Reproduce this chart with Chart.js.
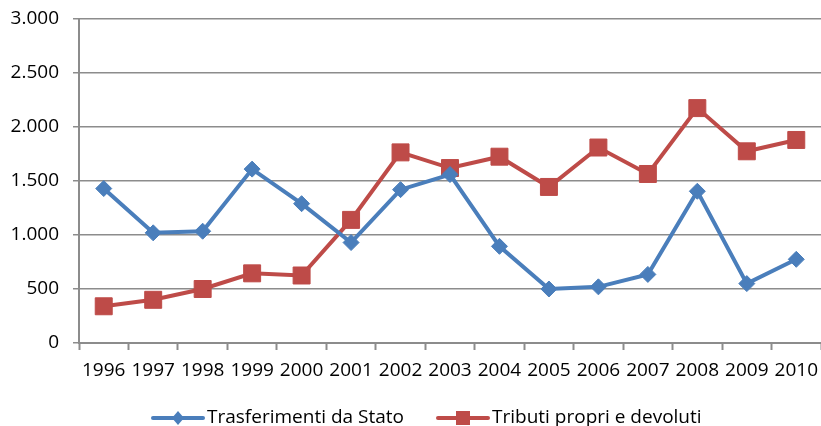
<!DOCTYPE html>
<html>
<head>
<meta charset="utf-8">
<script src="https://cdn.jsdelivr.net/npm/chart.js@4/dist/chart.umd.min.js"></script>
<style>
html,body{margin:0;padding:0;background:#fff;}
#wrap{width:821px;height:426px;position:relative;}
</style>
</head>
<body>
<div id="wrap"><canvas id="c" width="821" height="426"></canvas></div>
<script>
const years = ['1996','1997','1998','1999','2000','2001','2002','2003','2004','2005','2006','2007','2008','2009','2010'];
const trasferimenti = [1430,1020,1035,1610,1290,930,1420,1560,895,500,520,635,1405,550,775];
const tributi = [340,400,500,645,625,1140,1765,1620,1725,1445,1810,1565,2175,1775,1880];
const seriesNames = ['Trasferimenti da Stato','Tributi propri e devoluti'];
const yTicks = [0,500,1000,1500,2000,2500,3000];

const BLUE = '#4A7EBB';
const RED = '#BE4B48';
const GRID = '#8C8C8C';
const FONT = 'Open Sans';

const legendPlugin = {
  id: 'customLegend',
  afterDraw(chart) {
    const ctx = chart.ctx;
    const y = 418;
    const items = [
      {x: 153, ds: chart.data.datasets[0]},
      {x: 438, ds: chart.data.datasets[1]}
    ];
    ctx.save();
    ctx.font = '19px "' + FONT + '"';
    ctx.textBaseline = 'middle';
    items.forEach(it => {
      const ds = it.ds;
      ctx.strokeStyle = ds.borderColor;
      ctx.lineWidth = 4;
      ctx.lineCap = 'round';
      ctx.beginPath();
      ctx.moveTo(it.x, y);
      ctx.lineTo(it.x + 50, y);
      ctx.stroke();
      ctx.fillStyle = ds.pointBackgroundColor;
      const cx = it.x + 25;
      if (ds.pointStyle === 'rect') {
        ctx.fillRect(cx - 7, y - 7, 14, 14);
      } else {
        ctx.beginPath();
        ctx.moveTo(cx, y - 7);
        ctx.lineTo(cx + 6, y);
        ctx.lineTo(cx, y + 7);
        ctx.lineTo(cx - 6, y);
        ctx.closePath();
        ctx.fill();
      }
      ctx.fillStyle = '#000';
      ctx.textAlign = 'left';
      ctx.fillText(ds.label, it.x + 54, y);
    });
    ctx.restore();
  }
};

new Chart(document.getElementById('c'), {
  type: 'line',
  data: {
    labels: years,
    datasets: [
      {
        label: seriesNames[0],
        data: trasferimenti,
        borderColor: BLUE,
        backgroundColor: BLUE,
        pointBackgroundColor: BLUE,
        pointBorderColor: BLUE,
        borderWidth: 4,
        pointStyle: 'rectRot',
        pointRadius: 8,
        pointBorderWidth: 1,
        tension: 0
      },
      {
        label: seriesNames[1],
        data: tributi,
        borderColor: RED,
        backgroundColor: RED,
        pointBackgroundColor: RED,
        pointBorderColor: RED,
        borderWidth: 4,
        pointStyle: 'rect',
        pointRadius: 12,
        pointBorderWidth: 1,
        tension: 0
      }
    ]
  },
  options: {
    responsive: false,
    animation: false,
    layout: {autoPadding: false, padding: {top: 19, right: 0, bottom: 0, left: 0}},
    plugins: {
      legend: {display: false},
      tooltip: {enabled: false}
    },
    scales: {
      x: {
        offset: true,
        grid: {
          offset: true,
          drawOnChartArea: false,
          drawTicks: true,
          tickLength: 7,
          tickWidth: 2,
          tickColor: GRID
        },
        border: {color: GRID, width: 2},
        ticks: {
          color: '#000',
          font: {family: FONT, size: 19},
          padding: 9,
          maxRotation: 0,
          autoSkip: false
        },
        afterFit(scale) { scale.height = 83; scale.paddingLeft = 0; scale.paddingRight = 0; }
      },
      y: {
        min: 0,
        max: 3000,
        afterBuildTicks(scale) { scale.ticks = yTicks.map(v => ({value: v})); },
        grid: {
          color: GRID,
          lineWidth: 1.5,
          drawTicks: true,
          tickLength: 6,
          tickColor: GRID
        },
        border: {color: GRID, width: 2},
        ticks: {
          color: '#000',
          font: {family: FONT, size: 19},
          padding: 14,
          callback: v => v.toLocaleString('it-IT').replace(/,/g, '.').replace(/\u00a0/g, '.')
        },
        afterFit(scale) { scale.width = 79; scale.paddingTop = 0; scale.paddingBottom = 0; }
      }
    }
  },
  plugins: [legendPlugin]
});
</script>
</body>
</html>
